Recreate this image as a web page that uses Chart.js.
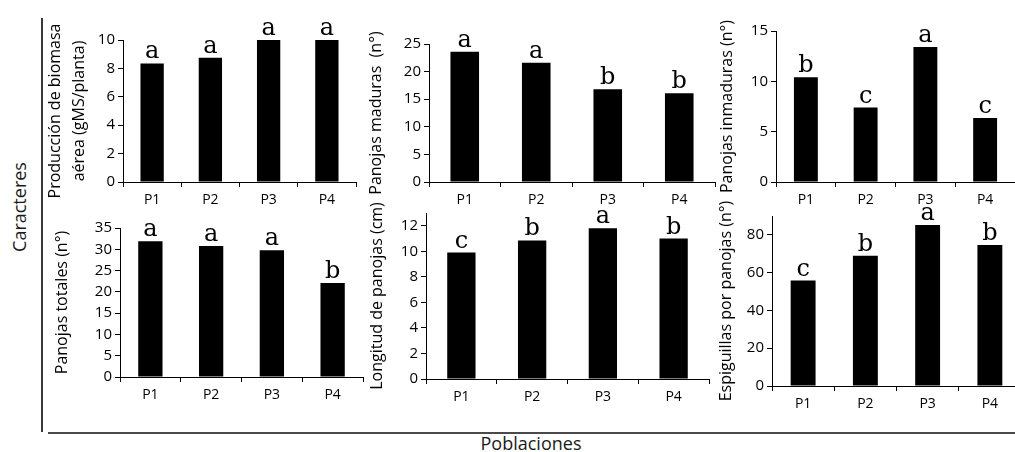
<!DOCTYPE html>
<html>
<head>
<meta charset="utf-8">
<script src="https://cdn.jsdelivr.net/npm/chart.js@4.4.1/dist/chart.umd.min.js"></script>
<style>
  body { margin: 0; width: 1015px; height: 452px; overflow: hidden; position: relative; background: #fff; font-family: "Open Sans", sans-serif; }
  canvas { position: absolute; }
  #lineaV { position: absolute; left: 41px; top: 18px; width: 2px; height: 414px; background: #3a3a3a; }
  #lineaH { position: absolute; left: 48px; top: 432px; width: 967px; height: 2px; background: #4a4a4a; }
  #caracteres { position: absolute; left: 19px; top: 207px; transform: translate(-50%, -50%) rotate(-90deg); font-size: 18px; color: #1a1a1a; white-space: nowrap; }
  #poblaciones { position: absolute; left: 531px; top: 443px; transform: translate(-50%, -50%); font-size: 18px; color: #1a1a1a; white-space: nowrap; }
</style>
</head>
<body>
<div id="lineaV"></div>
<div id="lineaH"></div>
<div id="caracteres">Caracteres</div>
<div id="poblaciones">Poblaciones</div>
<script>
// datos
const poblaciones = ["P1", "P2", "P3", "P4"];

const biomasa = [8.35, 8.75, 10.0, 10.0];
const panojasMaduras = [23.6, 21.6, 16.8, 16.1];
const panojasInmaduras = [10.4, 7.4, 13.4, 6.35];
const panojasTotales = [31.9, 30.8, 29.8, 22.1];
const longitudPanojas = [9.9, 10.85, 11.8, 11.0];
const espiguillas = [55.8, 68.9, 85.3, 74.7];

const letrasBiomasa = ["a", "a", "a", "a"];
const letrasMaduras = ["a", "a", "b", "b"];
const letrasInmaduras = ["b", "c", "a", "c"];
const letrasTotales = ["a", "a", "a", "b"];
const letrasLongitud = ["c", "b", "a", "b"];
const letrasEspiguillas = ["c", "b", "a", "b"];

// posicion de cada panel en la pagina (px)
const paneles = [
  { datos: biomasa, letras: letrasBiomasa, titulo: ["Producción de biomasa", "aérea (gMS/planta)"], max: 10, paso: 2,
    tituloX: 55, ejeX: 123, derecha: 356, arriba: 40, abajo: 182 },
  { datos: panojasMaduras, letras: letrasMaduras, titulo: "Panojas maduras  (n°)", max: 25, paso: 5,
    tituloX: 376, ejeX: 429, derecha: 715, arriba: 44, abajo: 182 },
  { datos: panojasInmaduras, letras: letrasInmaduras, titulo: "Panojas inmaduras (n°)", max: 15, paso: 5,
    tituloX: 727, ejeX: 776, derecha: 1015, arriba: 31, abajo: 182 },
  { datos: panojasTotales, letras: letrasTotales, titulo: "Panojas totales (n°)", max: 35, paso: 5,
    tituloX: 62, ejeX: 120, derecha: 363, arriba: 228, abajo: 377 },
  { datos: longitudPanojas, letras: letrasLongitud, titulo: "Longitud de panojas (cm)", max: 13, paso: 2,
    tituloX: 377, ejeX: 426, derecha: 709, arriba: 213, abajo: 379 },
  { datos: espiguillas, letras: letrasEspiguillas, titulo: "Espiguillas por panojas (n°)", max: 90, paso: 20,
    tituloX: 726, ejeX: 772, derecha: 1021, arriba: 216, abajo: 386 }
];

const PAD_ARRIBA = 30;
const ALTO_EJE_X = 30;
const ALTO_LINEA_TITULO = 24;

// letras de significancia sobre cada barra
const pluginLetras = {
  id: "letras",
  afterDatasetsDraw(chart, args, opts) {
    const ctx = chart.ctx;
    const meta = chart.getDatasetMeta(0);
    ctx.save();
    ctx.fillStyle = "#000";
    ctx.font = "24px 'DejaVu Serif'";
    ctx.textAlign = "center";
    ctx.textBaseline = "alphabetic";
    meta.data.forEach((barra, i) => {
      ctx.fillText(opts.letras[i], barra.x, barra.y - 5);
    });
    ctx.restore();
  }
};

paneles.forEach(p => {
  const izq = p.tituloX - ALTO_LINEA_TITULO / 2;
  const anchoEjeY = p.ejeX - izq;
  const ancho = p.derecha - izq + 2;
  const alto = PAD_ARRIBA + (p.abajo - p.arriba) + ALTO_EJE_X;

  const canvas = document.createElement("canvas");
  canvas.width = ancho;
  canvas.height = alto;
  canvas.style.left = izq + "px";
  canvas.style.top = (p.arriba - PAD_ARRIBA) + "px";
  document.body.appendChild(canvas);

  new Chart(canvas.getContext("2d"), {
    type: "bar",
    data: {
      labels: poblaciones,
      datasets: [{
        data: p.datos,
        backgroundColor: "#000",
        borderWidth: 0,
        barPercentage: 0.4,
        categoryPercentage: 1
      }]
    },
    options: {
      responsive: false,
      animation: false,
      layout: { padding: { top: PAD_ARRIBA, right: 2, bottom: 0, left: 0 } },
      plugins: {
        legend: { display: false },
        tooltip: { enabled: false },
        letras: { letras: p.letras }
      },
      scales: {
        x: {
          offset: true,
          grid: { offset: true, drawOnChartArea: false, drawTicks: true, tickLength: 5, color: "#000" },
          border: { color: "#000", width: 1 },
          ticks: { color: "#000", font: { family: "Open Sans", size: 14 }, padding: 5 },
          afterFit(scale) { scale.height = ALTO_EJE_X; }
        },
        y: {
          min: 0,
          max: p.max,
          grid: { drawOnChartArea: false, drawTicks: true, tickLength: 5, color: "#000" },
          border: { color: "#000", width: 1 },
          ticks: { stepSize: p.paso, includeBounds: false, color: "#000", font: { family: "Open Sans", size: 15 }, padding: 3 },
          title: {
            display: true,
            text: p.titulo,
            color: "#000",
            padding: 0,
            font: { family: "Open Sans", size: 16, lineHeight: ALTO_LINEA_TITULO / 16 }
          },
          afterFit(scale) { scale.width = anchoEjeY; }
        }
      }
    },
    plugins: [pluginLetras]
  });
});
</script>
</body>
</html>
